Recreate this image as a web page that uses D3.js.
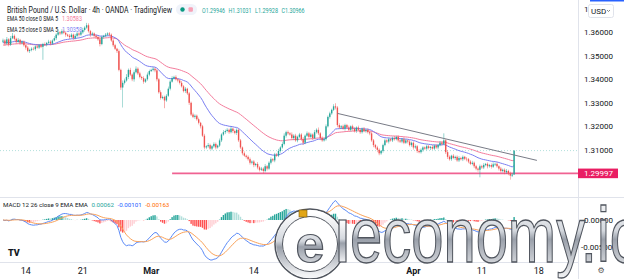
<!DOCTYPE html>
<html>
<head>
<meta charset="utf-8">
<script src="https://cdn.jsdelivr.net/npm/d3@7"></script>
<style>
  body { margin: 0; background: #fff; }
  svg { display: block; font-family: Roboto, "Liberation Sans", sans-serif; }
</style>
</head>
<body>
<svg id="chart" width="624" height="279"></svg>
<script>
// GBPUSD 4h closes, one per bar
var closes = [
  1.3565, 1.3552, 1.3570, 1.3548, 1.3575, 1.3585, 1.3572, 1.3560, 1.3568, 1.3555,
  1.3560, 1.3545, 1.3535, 1.3520, 1.3525, 1.3530, 1.3528, 1.3540, 1.3535, 1.3545,
  1.3538, 1.3550, 1.3548, 1.3555, 1.3560, 1.3552, 1.3565, 1.3575, 1.3590, 1.3600,
  1.3595, 1.3605, 1.3598, 1.3590, 1.3585, 1.3580, 1.3590, 1.3575, 1.3585, 1.3595,
  1.3590, 1.3600, 1.3610, 1.3620, 1.3630, 1.3605, 1.3590, 1.3595, 1.3585, 1.3580,
  1.3570, 1.3550, 1.3580, 1.3585, 1.3590, 1.3595, 1.3590, 1.3565, 1.3545, 1.3530,
  1.3520, 1.3440, 1.3365, 1.3385, 1.3395, 1.3410, 1.3440, 1.3420, 1.3400, 1.3430,
  1.3445, 1.3425, 1.3410, 1.3405, 1.3390, 1.3400, 1.3420, 1.3435, 1.3440, 1.3445,
  1.3438, 1.3400, 1.3345, 1.3320, 1.3325, 1.3310, 1.3330, 1.3360, 1.3390, 1.3405,
  1.3410, 1.3400, 1.3395, 1.3385, 1.3370, 1.3350, 1.3360, 1.3340, 1.3300, 1.3250,
  1.3240, 1.3245, 1.3230, 1.3215, 1.3200, 1.3160, 1.3110, 1.3115, 1.3120, 1.3105,
  1.3115, 1.3125, 1.3110, 1.3118, 1.3140, 1.3165, 1.3175, 1.3180, 1.3185, 1.3175,
  1.3190, 1.3180, 1.3172, 1.3185, 1.3140, 1.3110, 1.3085, 1.3075, 1.3070, 1.3060,
  1.3045, 1.3050, 1.3035, 1.3040, 1.3025, 1.3015, 1.3020, 1.3010, 1.3030, 1.3020,
  1.3045, 1.3060, 1.3055, 1.3080, 1.3075, 1.3095, 1.3110, 1.3125, 1.3160, 1.3175,
  1.3170, 1.3165, 1.3150, 1.3160, 1.3140, 1.3155, 1.3165, 1.3145, 1.3130, 1.3160,
  1.3170, 1.3155, 1.3165, 1.3150, 1.3175, 1.3185, 1.3170, 1.3150, 1.3140, 1.3145,
  1.3200, 1.3240, 1.3255, 1.3270, 1.3285, 1.3280, 1.3205, 1.3195, 1.3200, 1.3190,
  1.3205, 1.3195, 1.3185, 1.3200, 1.3190, 1.3180, 1.3195, 1.3185, 1.3175, 1.3190,
  1.3180, 1.3185, 1.3175, 1.3170, 1.3140, 1.3120, 1.3110, 1.3100, 1.3085, 1.3095,
  1.3120, 1.3140, 1.3135, 1.3145, 1.3140, 1.3150, 1.3145, 1.3155, 1.3140, 1.3135,
  1.3145, 1.3130, 1.3140, 1.3135, 1.3120, 1.3130, 1.3110, 1.3115, 1.3095, 1.3090,
  1.3100, 1.3110, 1.3105, 1.3115, 1.3108, 1.3112, 1.3105, 1.3118, 1.3110, 1.3120,
  1.3130, 1.3125, 1.3140, 1.3090, 1.3070, 1.3060, 1.3075, 1.3065, 1.3070, 1.3055,
  1.3065, 1.3060, 1.3070, 1.3062, 1.3060, 1.3050, 1.3040, 1.3045, 1.3030, 1.3020,
  1.3015, 1.3030, 1.3025, 1.3035, 1.3040, 1.3030, 1.3035, 1.3028, 1.3038, 1.3040,
  1.3030, 1.3020, 1.3010, 1.3015, 1.3005, 1.3010, 1.3000, 1.2990, 1.29946, 1.30966
];
var firstOpen = 1.3560;

// wick lengths beyond the body, in pips
var upWicks = [
  8, 6, 10, 5, 9, 12, 6, 5, 8, 4,   6, 5, 4, 7, 5, 6, 8, 5, 9, 4,
  6, 5, 7, 4, 8, 6, 5, 9, 6, 12,    5, 8, 6, 5, 4, 7, 6, 5, 8, 6,
  5, 7, 9, 6, 10, 8, 5, 7, 4, 6,    5, 9, 6, 4, 7, 5, 6, 5, 8, 6,
  4, 7, 5, 10, 8, 12, 6, 9, 5, 8,   10, 6, 7, 5, 8, 4, 9, 6, 5, 7,
  4, 6, 5, 8, 6, 5, 7, 9, 6, 8,     5, 7, 4, 6, 8, 5, 7, 4, 6, 5,
  8, 6, 5, 7, 4, 6, 8, 5, 9, 6,     5, 7, 6, 4, 8, 5, 9, 6, 7, 5,
  8, 4, 6, 7, 5, 6, 4, 8, 5, 6,     7, 5, 6, 4, 8, 5, 7, 6, 9, 5,
  6, 8, 5, 7, 6, 9, 5, 8, 10, 6,    7, 5, 9, 6, 8, 5, 7, 6, 9, 5,
  8, 6, 7, 5, 9, 6, 10, 5, 7, 6,    8, 6, 7, 5, 9, 13, 6, 8, 5, 7,
  6, 5, 8, 4, 7, 6, 5, 8, 6, 5,     7, 4, 6, 5, 8, 6, 5, 7, 6, 4,
  6, 8, 5, 7, 4, 6, 9, 5, 7, 6,     5, 8, 6, 4, 7, 5, 6, 8, 5, 7,
  6, 5, 4, 7, 6, 5, 8, 4, 6, 5,     7, 6, 30, 5, 8, 6, 4, 7, 5, 6,
  8, 5, 6, 4, 7, 5, 6, 8, 5, 6,     5, 7, 6, 8, 4, 6, 5, 7, 9, 5,
  6, 4, 7, 5, 6, 8, 5, 7, 6, 0.65
];
var downWicks = [
  6, 9, 5, 8, 6, 4, 7, 9, 5, 8,     7, 6, 9, 5, 8, 6, 5, 7, 4, 6,
  5, 55, 6, 8, 5, 7, 6, 4, 8, 5,    7, 5, 6, 9, 5, 8, 6, 7, 5, 6,
  8, 5, 6, 7, 5, 6, 9, 5, 7, 8,     6, 10, 5, 7, 6, 5, 8, 6, 7, 5,
  8, 6, 10, 85, 7, 5, 9, 6, 8, 10,  5, 7, 6, 8, 9, 5, 6, 7, 4, 6,
  8, 9, 6, 7, 5, 33, 6, 5, 7, 4,    6, 5, 8, 7, 5, 6, 8, 7, 9, 6,
  5, 8, 6, 7, 9, 5, 8, 7, 6, 5,     7, 6, 8, 5, 6, 7, 5, 8, 6, 7,
  5, 8, 6, 9, 7, 6, 8, 5, 7, 6,     8, 7, 9, 6, 8, 7, 5, 10, 6, 8,
  5, 7, 6, 8, 5, 6, 7, 5, 6, 8,     6, 5, 7, 9, 6, 8, 5, 7, 9, 6,
  5, 7, 6, 8, 5, 6, 7, 9, 6, 5,     6, 5, 7, 6, 5, 8, 9, 6, 7, 5,
  8, 6, 5, 7, 9, 6, 8, 5, 7, 6,     5, 7, 6, 8, 6, 9, 7, 10, 8, 6,
  7, 5, 6, 8, 5, 7, 6, 5, 8, 6,     7, 6, 5, 8, 6, 7, 9, 6, 8, 5,
  6, 8, 5, 7, 6, 9, 5, 7, 6, 8,     5, 7, 6, 8, 9, 6, 7, 5, 8, 6,
  7, 5, 8, 6, 9, 7, 5, 6, 8, 7,     8, 32, 6, 7, 5, 9, 6, 8, 5, 7,
  6, 8, 7, 6, 9, 7, 8, 17, 6, 0.18
];

var priceTicks = [1.37, 1.36, 1.35, 1.34, 1.33, 1.32, 1.31];
var macdTicks = [0, -0.005];
var timeLabels = ["14", "21", "Mar", "14", "Apr", "11", "18"];
var timeBars = [12, 42, 78, 132, 216, 252, 282];
var monthLabels = ["Mar", "Apr"];

var supportPrice = 1.29997;
var supportStartBar = 89;
var trendBars = [176, 281];
var trendPrices = [1.3255, 1.3055];

var emaLengths = [50, 25];
var emaSeeds = [1.3545, 1.3555];
var emaColors = ["#f47c9c", "#7b7ff2"];

var legendOHLC = ["O1.29946", "H1.31031", "L1.29928", "C1.30966"];
var legendEma = ["1.30583", "1.30358"];
var macdLabel = "MACD 12 26 close 9 EMA EMA";
var legendMacd = ["0.00062", "-0.00101", "-0.00163"];

var svg = d3.select("#chart");
var paneRight = 578;

var x = d3.scaleLinear().domain([0, 303]).range([3, 578.7]);
var y = d3.scaleLinear().domain([1.29, 1.36]).range([196.8, 32.3]);
var ym = d3.scaleLinear().domain([-0.005, 0]).range([247, 220]);

var up = "#26a69a", down = "#ef5350";

var candles = closes.map(function (c, i) {
  var o = i ? closes[i - 1] : firstOpen;
  return {
    i: i, o: o, c: c,
    h: Math.max(o, c) + upWicks[i] / 10000,
    l: Math.min(o, c) - downWicks[i] / 10000
  };
});

function ema(values, n, seed) {
  var k = 2 / (n + 1), e = seed, out = [];
  values.forEach(function (v, i) {
    e = (i === 0 && seed == null) ? v : e + k * (v - e);
    out.push(e);
  });
  return out;
}

var defs = svg.append("defs");
defs.append("clipPath").attr("id", "mainClip")
  .append("rect").attr("x", 0).attr("y", 0).attr("width", paneRight).attr("height", 197);
defs.append("clipPath").attr("id", "macdClip")
  .append("rect").attr("x", 0).attr("y", 198).attr("width", paneRight).attr("height", 63);

// separators
svg.append("line").attr("x1", paneRight + 0.5).attr("x2", paneRight + 0.5)
  .attr("y1", 0).attr("y2", 279).attr("stroke", "#e0e3eb");
svg.append("line").attr("x1", 0).attr("x2", 624).attr("y1", 197.5).attr("y2", 197.5)
  .attr("stroke", "#e0e3eb");
svg.append("line").attr("x1", 0).attr("x2", paneRight).attr("y1", 262.5).attr("y2", 262.5)
  .attr("stroke", "#e0e3eb");

var main = svg.append("g").attr("clip-path", "url(#mainClip)");

// last price line
main.append("line")
  .attr("x1", 0).attr("x2", paneRight)
  .attr("y1", y(closes[closes.length - 1])).attr("y2", y(closes[closes.length - 1]))
  .attr("stroke", "rgba(38,166,154,0.35)").attr("stroke-dasharray", "1,2");

// support line
main.append("line")
  .attr("x1", x(supportStartBar)).attr("x2", paneRight)
  .attr("y1", y(supportPrice)).attr("y2", y(supportPrice))
  .attr("stroke", "#f06292").attr("stroke-width", 1.6);

// EMAs
var emaLine = d3.line().x(function (d, i) { return x(i); }).y(function (d) { return y(d); });
emaLengths.forEach(function (n, k) {
  main.append("path")
    .attr("d", emaLine(ema(closes, n, emaSeeds[k])))
    .attr("fill", "none").attr("stroke", emaColors[k]).attr("stroke-width", 1);
});

// candles
var cg = main.append("g").selectAll("g").data(candles).enter().append("g");
cg.append("line")
  .attr("x1", function (d) { return x(d.i); }).attr("x2", function (d) { return x(d.i); })
  .attr("y1", function (d) { return y(d.h); }).attr("y2", function (d) { return y(d.l); })
  .attr("stroke", function (d) { return d.c >= d.o ? up : down; })
  .attr("stroke-width", 0.6).attr("opacity", 0.8);
cg.append("rect")
  .attr("x", function (d) { return x(d.i) - 0.7; })
  .attr("width", 1.4)
  .attr("y", function (d) { return y(Math.max(d.o, d.c)); })
  .attr("height", function (d) { return Math.max(0.6, Math.abs(y(d.o) - y(d.c))); })
  .attr("fill", function (d) { return d.c >= d.o ? up : down; });

// trend line
main.append("line")
  .attr("x1", x(trendBars[0])).attr("y1", y(trendPrices[0]))
  .attr("x2", x(trendBars[1])).attr("y2", y(trendPrices[1]))
  .attr("stroke", "#787b86").attr("stroke-width", 1);

// MACD
var ema12 = ema(closes, 12), ema26 = ema(closes, 26);
var macd = ema12.map(function (v, i) { return v - ema26[i]; });
var signal = ema(macd, 9);
var hist = macd.map(function (v, i) { return v - signal[i]; });

var mg = svg.append("g").attr("clip-path", "url(#macdClip)");
mg.selectAll("rect").data(hist).enter().append("rect")
  .attr("x", function (d, i) { return x(i) - 0.7; })
  .attr("width", 1.4)
  .attr("y", function (d) { return Math.min(ym(d), ym(0)); })
  .attr("height", function (d) { return Math.abs(ym(d) - ym(0)); })
  .attr("fill", function (d, i) {
    var p = i ? hist[i - 1] : d;
    if (d >= 0) return d >= p ? "#26a69a" : "#b2dfdb";
    return d < p ? "#ff5252" : "#ffcdd2";
  });
var mLine = d3.line().x(function (d, i) { return x(i); }).y(function (d) { return ym(d); });
mg.append("path").attr("d", mLine(macd)).attr("fill", "none")
  .attr("stroke", "#5b8af7").attr("stroke-width", 1);
mg.append("path").attr("d", mLine(signal)).attr("fill", "none")
  .attr("stroke", "#f9a25a").attr("stroke-width", 1);

// price axis
svg.append("g").selectAll("text").data(priceTicks).enter().append("text")
  .attr("x", 584).attr("y", function (d) { return y(d) + 3; })
  .attr("font-size", 8).attr("fill", "#131722")
  .text(function (d) { return d.toFixed(5); });
svg.append("g").selectAll("text").data(macdTicks).enter().append("text")
  .attr("x", function (d) { return d < 0 ? 581 : 584; }).attr("y", function (d) { return ym(d) + 3; })
  .attr("font-size", 8).attr("fill", "#131722")
  .text(function (d) { return d.toFixed(5); });

svg.append("rect").attr("x", 578).attr("y", y(supportPrice) - 4.8)
  .attr("width", 40).attr("height", 9.6).attr("fill", "#e91e63");
svg.append("text").attr("x", 584).attr("y", y(supportPrice) + 3)
  .attr("font-size", 8).attr("fill", "#fff").text(supportPrice.toFixed(5));

// USD box and top bar
svg.append("rect").attr("x", 590).attr("y", 0).attr("width", 34).attr("height", 1.5).attr("fill", "#2962ff");
svg.append("rect").attr("x", 588.5).attr("y", 4.5).attr("width", 25).attr("height", 13).attr("rx", 2)
  .attr("fill", "#fff").attr("stroke", "#e0e3eb");
svg.append("text").attr("x", 591).attr("y", 14).attr("font-size", 8).attr("fill", "#131722").text("USD");
svg.append("path").attr("d", "M607,10 l1.5,1.5 l1.5,-1.5").attr("fill", "none").attr("stroke", "#555").attr("stroke-width", 0.7);

// time axis
svg.append("g").selectAll("text").data(timeLabels).enter().append("text")
  .attr("x", function (d, i) { return x(timeBars[i]); }).attr("y", 274)
  .attr("text-anchor", "middle").attr("font-size", 9).attr("fill", "#131722")
  .attr("font-weight", function (d) { return monthLabels.indexOf(d) >= 0 ? 700 : 400; })
  .text(function (d) { return d; });

// legends
var lg = svg.append("g").attr("font-size", 7.5);
lg.append("text").attr("x", 7).attr("y", 12.5).attr("font-size", 9).attr("fill", "#131722")
  .attr("textLength", 165).attr("lengthAdjust", "spacingAndGlyphs")
  .text("British Pound / U.S. Dollar · 4h · OANDA · TradingView");
lg.append("rect").attr("x", 176).attr("y", 4).attr("width", 21).attr("height", 11).attr("rx", 5.5).attr("fill", "#f0f3fa");
lg.append("circle").attr("cx", 182.5).attr("cy", 9.5).attr("r", 2.2).attr("fill", "#089981");
lg.append("rect").attr("x", 188.5).attr("y", 7.3).attr("width", 4.4).attr("height", 4.4).attr("rx", 1).attr("fill", "#f7a1b5");
legendOHLC.forEach(function (v, i) {
  lg.append("text").attr("x", 202 + i * 26.5).attr("y", 12.5).attr("fill", "#26a69a")
    .attr("textLength", 23).attr("lengthAdjust", "spacingAndGlyphs").text(v);
});
[["EMA 50 close 0 SMA 5", 21], ["EMA 25 close 0 SMA 5", 32]].forEach(function (r, k) {
  lg.append("text").attr("x", 7).attr("y", r[1]).attr("fill", "#131722")
    .attr("textLength", 51).attr("lengthAdjust", "spacingAndGlyphs").text(r[0]);
  lg.append("text").attr("x", 62).attr("y", r[1]).attr("fill", emaColors[k])
    .attr("textLength", 20).attr("lengthAdjust", "spacingAndGlyphs").text(legendEma[k]);
});

// MACD legend laid out one after another at natural widths
var macdCols = ["#131722", "#26a69a", "#2962ff", "#ff6d00"];
var mx = 3;
[macdLabel].concat(legendMacd).forEach(function (v, i) {
  var t = lg.append("text").attr("x", mx).attr("y", 206.5)
    .attr("font-family", "'Liberation Sans Narrow', Roboto, sans-serif")
    .attr("font-size", 6.2).attr("fill", macdCols[i]).text(v);
  mx += t.node().getComputedTextLength() + 3.5;
});

// TradingView logo
svg.append("text").attr("x", 8).attr("y", 256).attr("font-size", 9).attr("font-weight", 900)
  .attr("fill", "#131722").text("TV");
// settings glyph
svg.append("text").attr("x", 601).attr("y", 273).attr("text-anchor", "middle")
  .attr("font-size", 8).attr("fill", "#555").attr("font-family", "DejaVu Sans").text("⚙");

// watermark
var grad = defs.append("linearGradient").attr("id", "metal").attr("x1", 0).attr("x2", 0).attr("y1", 0).attr("y2", 1);
[[0, "#ffffff"], [0.45, "#d4d8de"], [0.55, "#9aa0aa"], [1, "#f2f3f5"]].forEach(function (s) {
  grad.append("stop").attr("offset", s[0]).attr("stop-color", s[1]);
});
var wm = svg.append("g");
wm.append("circle").attr("cx", 310).attr("cy", 244).attr("r", 35)
  .attr("fill", "#fff").attr("stroke", "#50555e").attr("stroke-width", 1.5);
wm.append("circle").attr("cx", 310).attr("cy", 244).attr("r", 31)
  .attr("fill", "none").attr("stroke", "url(#metal)").attr("stroke-width", 6);
wm.append("circle").attr("cx", 310).attr("cy", 244).attr("r", 27.5)
  .attr("fill", "none").attr("stroke", "#50555e").attr("stroke-width", 1);
wm.append("text").attr("x", 310).attr("y", 262).attr("text-anchor", "middle")
  .attr("font-family", "Liberation Sans").attr("font-weight", 700).attr("font-size", 52)
  .attr("fill", "url(#metal)").attr("stroke", "#50555e").attr("stroke-width", 1.2).text("e");
wm.append("rect").attr("x", 299).attr("y", 210).attr("width", 8).attr("height", 7)
  .attr("fill", "#e2a617").attr("stroke", "#7a5a10").attr("stroke-width", 0.6);
wm.append("rect").attr("x", 339).attr("y", 220).attr("width", 7).attr("height", 42)
  .attr("fill", "url(#metal)").attr("stroke", "#50555e").attr("stroke-width", 1.2);
wm.append("text").attr("x", 350).attr("y", 262)
  .attr("font-family", "Liberation Sans").attr("font-size", 77)
  .attr("textLength", 292).attr("lengthAdjust", "spacingAndGlyphs")
  .attr("fill", "url(#metal)").attr("stroke", "#50555e").attr("stroke-width", 1.3)
  .text("economy.io");
</script>
</body>
</html>
